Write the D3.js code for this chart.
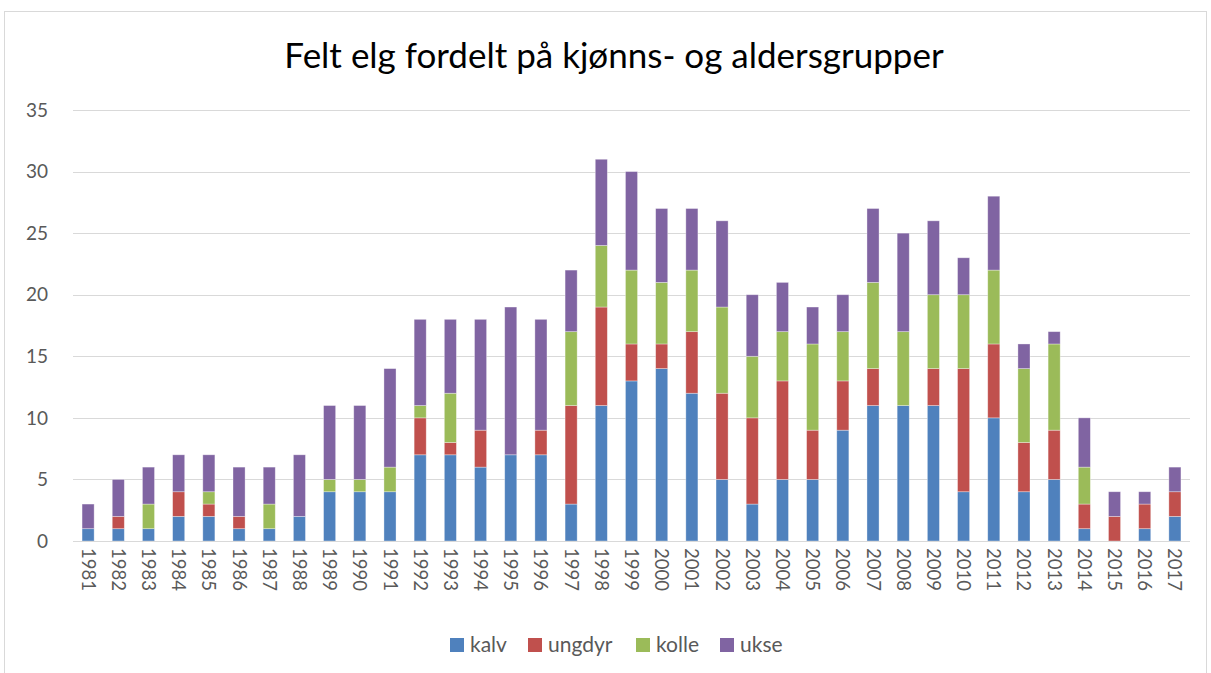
<!DOCTYPE html>
<html>
<head>
<meta charset="utf-8">
<script src="https://cdnjs.cloudflare.com/ajax/libs/d3/7.8.5/d3.min.js"></script>
<style>
  body { margin: 0; background: #fff; }
  svg { font-family: Lato, "Open Sans", sans-serif; }
</style>
</head>
<body>
<script>
// data
var years = ["1981","1982","1983","1984","1985","1986","1987","1988","1989","1990",
             "1991","1992","1993","1994","1995","1996","1997","1998","1999","2000",
             "2001","2002","2003","2004","2005","2006","2007","2008","2009","2010",
             "2011","2012","2013","2014","2015","2016","2017"];
var kalv   = [1,1,1,2,2,1,1,2,4,4, 4,7,7,6,7,7,3,11,13,14, 12,5,3,5,5,9,11,11,11,4, 10,4,5,1,0,1,2];
var ungdyr = [0,1,0,2,1,1,0,0,0,0, 0,3,1,3,0,2,8,8,3,2,   5,7,7,8,4,4,3,0,3,10,  6,4,4,2,2,2,2];
var kolle  = [0,0,2,0,1,0,2,0,1,1, 2,1,4,0,0,0,6,5,6,5,   5,7,5,4,7,4,7,6,6,6,   6,6,7,3,0,0,0];
var ukse   = [2,3,3,3,3,4,3,5,6,6, 8,7,6,9,12,9,5,7,8,6,  5,7,5,4,3,3,6,8,6,3,   6,2,1,4,2,1,2];
var seriesNames = ["kalv", "ungdyr", "kolle", "ukse"];
var seriesColors = ["#4F81BD", "#C0504D", "#9BBB59", "#8064A2"];
var yTicks = [0, 5, 10, 15, 20, 25, 30, 35];

var width = 1211, height = 673,
    margin = {top: 110, left: 73, right: 21, bottom: 132};

var rows = years.map(function (y, i) {
    return {year: y, kalv: kalv[i], ungdyr: ungdyr[i], kolle: kolle[i], ukse: ukse[i]};
});

var svg = d3.select("body").append("svg")
    .attr("width", width)
    .attr("height", height);

// chart frame
svg.append("rect")
    .attr("x", 4.5).attr("y", 11.5)
    .attr("width", 1202).attr("height", 680)
    .attr("fill", "none")
    .attr("stroke", "#d9d9d9");

var x = d3.scaleBand()
    .domain(years)
    .range([margin.left, width - margin.right])
    .paddingInner(0.6).paddingOuter(0.3);

var y = d3.scaleLinear()
    .domain([0, 35])
    .range([height - margin.bottom, margin.top]);

// gridlines
svg.append("g")
    .selectAll("line")
    .data(yTicks)
    .join("line")
    .attr("x1", margin.left).attr("x2", width - margin.right)
    .attr("y1", function (d) { return Math.round(y(d)) + 0.5; })
    .attr("y2", function (d) { return Math.round(y(d)) + 0.5; })
    .attr("stroke", "#d9d9d9")
    .attr("stroke-width", 1);

// y tick labels
svg.append("g")
    .selectAll("text")
    .data(yTicks)
    .join("text")
    .attr("x", 48)
    .attr("y", function (d) { return y(d); })
    .attr("dy", "0.35em")
    .attr("text-anchor", "end")
    .attr("font-size", 19)
    .attr("fill", "#595959")
    .text(function (d) { return d; });

// stacked bars
var stacked = d3.stack().keys(seriesNames)(rows);
var color = d3.scaleOrdinal().domain(seriesNames).range(seriesColors);

svg.append("g")
    .selectAll("g")
    .data(stacked)
    .join("g")
    .attr("fill", function (d) { return color(d.key); })
    .selectAll("rect")
    .data(function (d) { return d.filter(function (p) { return p[1] > p[0]; }); })
    .join("rect")
    .attr("x", function (d) { return x(d.data.year); })
    .attr("width", x.bandwidth())
    .attr("y", function (d) { return y(d[1]); })
    .attr("height", function (d) { return y(d[0]) - y(d[1]); })
    .attr("stroke", "#ffffff")
    .attr("stroke-opacity", 0.45)
    .attr("stroke-width", 0.75);

// baseline axis
svg.append("line")
    .attr("x1", margin.left).attr("x2", width - margin.right)
    .attr("y1", Math.round(y(0)) + 0.5).attr("y2", Math.round(y(0)) + 0.5)
    .attr("stroke", "#d9d9d9");

// x tick labels, rotated
svg.append("g")
    .selectAll("text")
    .data(years)
    .join("text")
    .attr("transform", function (d) {
        return "translate(" + (x(d) + x.bandwidth() / 2) + "," + (y(0) + 7) + ")rotate(90)";
    })
    .attr("dy", "0.35em")
    .attr("text-anchor", "start")
    .attr("font-size", 18.5)
    .attr("fill", "#595959")
    .text(function (d) { return d; });

// title
svg.append("text")
    .attr("x", 614)
    .attr("y", 68)
    .attr("text-anchor", "middle")
    .attr("font-size", 35)
    .attr("fill", "#000")
    .text("Felt elg fordelt på kjønns- og aldersgrupper");

// legend
var legendX = [450, 528, 636, 720];
var legend = svg.append("g")
    .selectAll("g")
    .data(seriesNames)
    .join("g")
    .attr("transform", function (d, i) { return "translate(" + legendX[i] + ",638)"; });
legend.append("rect")
    .attr("width", 14).attr("height", 14)
    .attr("fill", function (d) { return color(d); });
legend.append("text")
    .attr("x", 20).attr("y", 7)
    .attr("dy", "0.35em")
    .attr("font-size", 21)
    .attr("fill", "#595959")
    .text(function (d) { return d; });
</script>
</body>
</html>
